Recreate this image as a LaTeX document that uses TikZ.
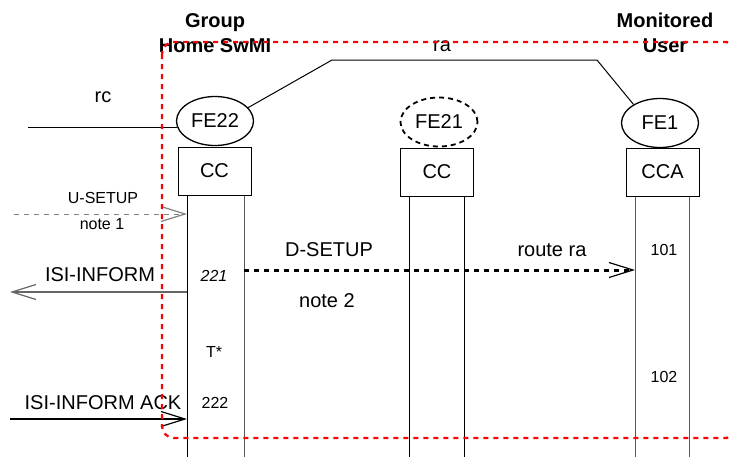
\documentclass[tikz,border=0pt]{standalone}
\usepackage{fontspec}
\setmainfont{Liberation Sans}
\usepackage{xcolor}
\usetikzlibrary{calc, shapes.geometric, positioning, arrows.meta}

\begin{document}
\begin{tikzpicture}[x=1pt, y=-1pt, line width=1pt,
    >={Straight Barb[length=24pt, width=15pt, line width=1.2pt]},
    box/.style={draw, minimum width=73pt, minimum height=48pt, inner sep=0pt, font=\fontsize{20}{24}\selectfont},
    fe/.style={draw, ellipse, minimum width=77pt, minimum height=49pt, inner sep=0pt, line width=1.3pt, font=\fontsize{20}{24}\selectfont},
    lbl/.style={inner sep=0pt, font=\fontsize{20}{24}\selectfont},
    sm/.style={inner sep=0pt, font=\fontsize{16}{19}\selectfont},
    head/.style={inner sep=0pt, align=center, font=\bfseries\fontsize{20}{25}\selectfont}]
    \useasboundingbox (0,0) rectangle (732,459);

    % Tiêu đề
    \node[head] (grp) at (215,33) {Group\\Home SwMI};
    \node[head] (mon) at (665,33) {Monitored\\User};

    % Các thực thể chức năng
    \node[fe] (fe22) at (215,121) {FE22};
    \node[box] (cc1) at (214.5,171) {CC};
    \node[fe, line width=1.8pt, dash pattern=on 5pt off 4pt] (fe21) at (439,122) {FE21};
    \node[box] (cc2) at (437,172) {CC};
    \node[fe] (fe1) at (660,123) {FE1};
    \node[box] (cca) at (662.5,172) {CCA};

    % Đường đời
    \coordinate (l1) at (187,457);
    \coordinate (l2) at (244,457);
    \coordinate (l3) at (409,457);
    \coordinate (l4) at (464,457);
    \coordinate (l5) at (635,457);
    \coordinate (l6) at (689,457);
    \draw (cc1.south -| l1) -- (l1);
    \draw[gray!70!black] (cc1.south -| l2) -- (l2);
    \draw (cc2.south -| l3) -- (l3);
    \draw (cc2.south -| l4) -- (l4);
    \draw[gray!70!black] (cca.south -| l5) -- (l5);
    \draw[gray!70!black] (cca.south -| l6) -- (l6);

    % Tham chiếu rc, ra
    \coordinate (rc) at (28,127.5);
    \draw (rc) -- (rc -| fe22.190);
    \node[lbl] (rclbl) at (103,97) {rc};
    \coordinate (ra1) at (332,60);
    \coordinate (ra2) at (597,60);
    \draw (fe22.22) -- (ra1) -- (ra2) -- (fe1.145);
    \node[lbl] (ralbl) at (442,46) {ra};

    % Bản tin
    \coordinate (us) at (14,214);
    \draw[->, gray, dash pattern=on 5pt off 5pt] (us) -- (us -| l1);
    \node[sm] (uslbl) at (103,198) {U-SETUP};
    \node[sm] (n1) at (102,224) {note 1};

    \coordinate (ii) at (10,292);
    \draw[->, gray!80!black, line width=1.5pt] (ii -| l1) -- (ii);
    \node[lbl] (iilbl) at (100,275) {ISI-INFORM};
    \node[sm, font=\itshape\fontsize{16}{19}\selectfont] (s221) at (214,276) {221};

    \coordinate (ds) at (0,270);
    \draw[->, line width=3pt, dash pattern=on 5pt off 5pt] (ds -| l2) -- (ds -| l5);
    \node[lbl] (dslbl) at (329,250) {D-SETUP};
    \node[lbl] (rtlbl) at (552,250) {route ra};
    \node[lbl] (n2) at (327,301) {note 2};
    \node[sm] (s101) at (664,250) {101};
    \node[sm] (s102) at (664,377) {102};
    \node[sm] (tst) at (214,352) {T*};
    \node[sm] (s222) at (215,403) {222};

    \coordinate (ack) at (10,419);
    \draw[->, line width=2.5pt] (ack) -- (ack -| l1);
    \node[lbl] (acklbl) at (103,403) {ISI-INFORM ACK};

    % Khung đỏ
    \draw[red, line width=2.3pt, dash pattern=on 5pt off 5pt, rounded corners=12pt]
        (162,42) rectangle (738,438);
\end{tikzpicture}
\end{document}
